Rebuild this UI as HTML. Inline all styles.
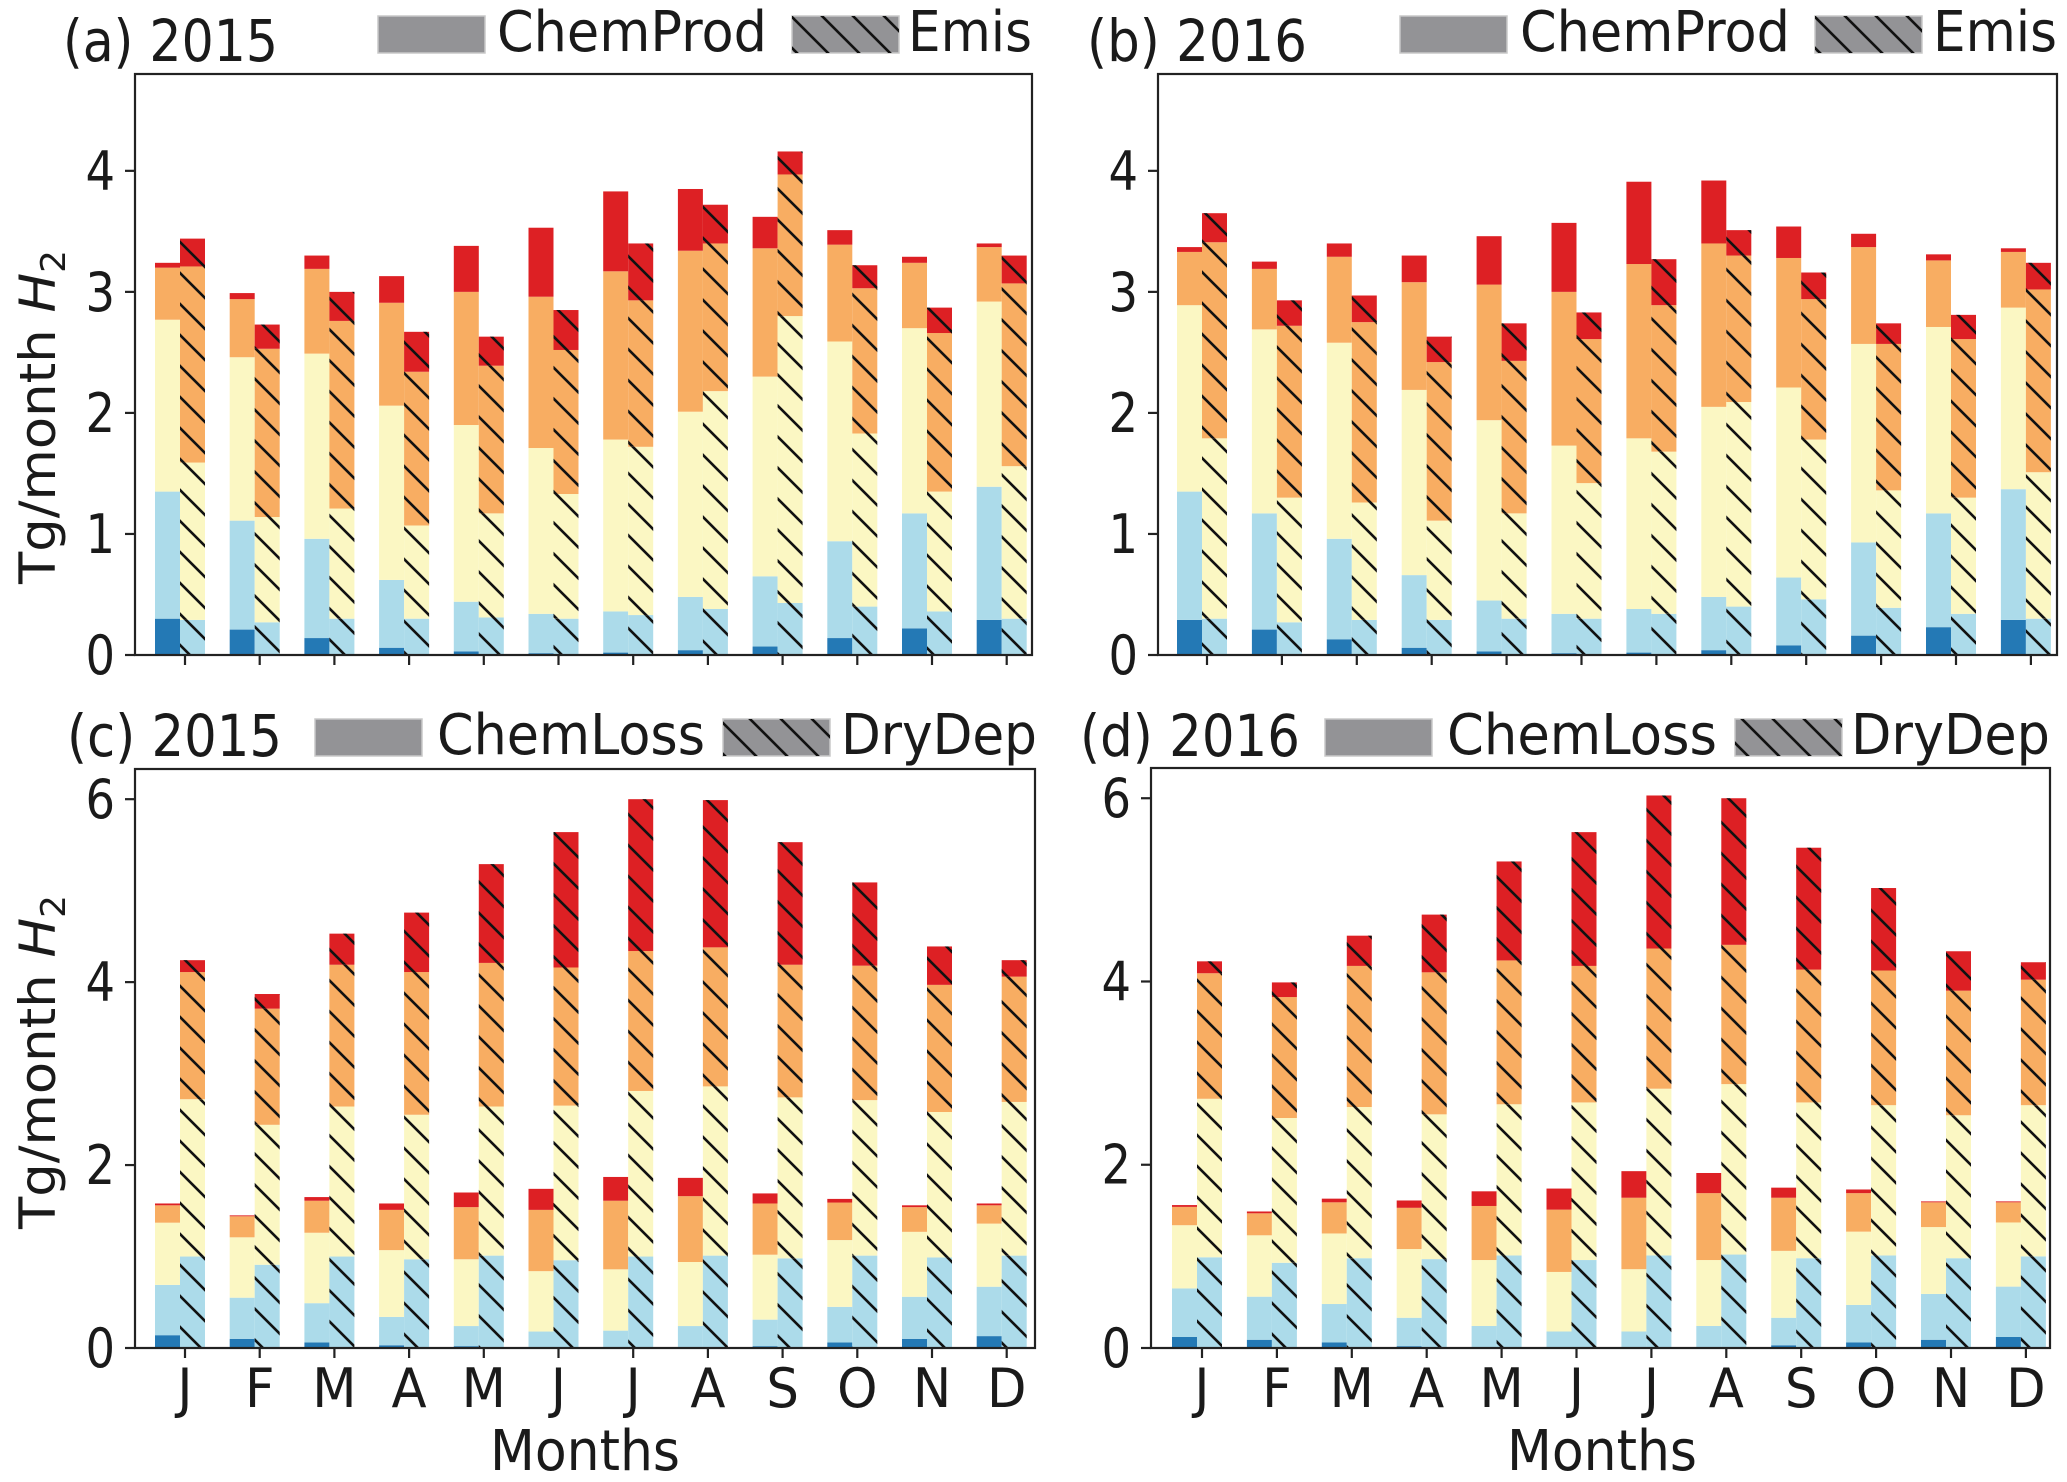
<!DOCTYPE html>
<html><head><meta charset="utf-8"><style>
html,body{margin:0;padding:0;background:#fff;}
svg{display:block;}
text{font-family:"DejaVu Sans","Liberation Sans",sans-serif;fill:#1a1a1a;}
</style></head><body>
<svg id="fig" width="2067" height="1482" viewBox="0 0 2067 1482" xmlns="http://www.w3.org/2000/svg">
<defs>
<pattern id="hatch" patternUnits="userSpaceOnUse" width="31" height="31">
<path d="M-5,-5 L36,36 M-5,26 L5,36 M26,-5 L36,5" stroke="#111" stroke-width="2.6"/>
</pattern>
</defs>
</svg>
<script>
// ---- data: stacked cumulative tops per band (band1 bottom .. band5 top) ----
const months = ["J","F","M","A","M","J","J","A","S","O","N","D"];
const yTicksAB = [0,1,2,3,4];
const yTicksCD = [0,2,4,6];
// (a) 2015 ChemProd
const aProd1 = [0.30,0.21,0.14,0.06,0.03,0.015,0.02,0.04,0.07,0.14,0.22,0.29];
const aProd2 = [1.35,1.11,0.96,0.62,0.44,0.34,0.36,0.48,0.65,0.94,1.17,1.39];
const aProd3 = [2.77,2.46,2.49,2.06,1.90,1.71,1.78,2.01,2.30,2.59,2.70,2.92];
const aProd4 = [3.20,2.94,3.19,2.91,3.00,2.96,3.17,3.34,3.36,3.39,3.24,3.37];
const aProd5 = [3.24,2.99,3.30,3.13,3.38,3.53,3.83,3.85,3.62,3.51,3.29,3.40];
// (a) 2015 Emis
const aEmis1 = [0,0,0,0,0,0,0,0,0,0,0,0];
const aEmis2 = [0.29,0.27,0.30,0.30,0.31,0.30,0.33,0.38,0.43,0.40,0.36,0.30];
const aEmis3 = [1.59,1.14,1.21,1.07,1.17,1.33,1.72,2.18,2.80,1.83,1.35,1.56];
const aEmis4 = [3.21,2.53,2.76,2.34,2.39,2.52,2.93,3.40,3.97,3.03,2.66,3.07];
const aEmis5 = [3.44,2.73,3.00,2.67,2.63,2.85,3.40,3.72,4.16,3.22,2.87,3.30];
// (b) 2016 ChemProd
const bProd1 = [0.29,0.21,0.13,0.06,0.03,0.015,0.02,0.04,0.08,0.16,0.23,0.29];
const bProd2 = [1.35,1.17,0.96,0.66,0.45,0.34,0.38,0.48,0.64,0.93,1.17,1.37];
const bProd3 = [2.89,2.69,2.58,2.19,1.94,1.73,1.79,2.05,2.21,2.57,2.71,2.87];
const bProd4 = [3.33,3.19,3.29,3.08,3.06,3.00,3.23,3.40,3.28,3.37,3.26,3.33];
const bProd5 = [3.37,3.25,3.40,3.30,3.46,3.57,3.91,3.92,3.54,3.48,3.31,3.36];
// (b) 2016 Emis
const bEmis1 = [0,0,0,0,0,0,0,0,0,0,0,0];
const bEmis2 = [0.30,0.27,0.29,0.29,0.30,0.30,0.34,0.40,0.46,0.39,0.34,0.30];
const bEmis3 = [1.79,1.30,1.26,1.11,1.17,1.42,1.68,2.09,1.78,1.36,1.30,1.51];
const bEmis4 = [3.41,2.72,2.75,2.42,2.43,2.61,2.89,3.30,2.94,2.57,2.61,3.02];
const bEmis5 = [3.65,2.93,2.97,2.63,2.74,2.83,3.27,3.51,3.16,2.74,2.81,3.24];
// (c) 2015 ChemLoss
const cLoss1 = [0.14,0.10,0.06,0.03,0.02,0.01,0.01,0.01,0.02,0.06,0.10,0.13];
const cLoss2 = [0.69,0.55,0.49,0.34,0.24,0.18,0.19,0.24,0.31,0.45,0.56,0.67];
const cLoss3 = [1.37,1.21,1.26,1.07,0.97,0.84,0.86,0.94,1.02,1.18,1.27,1.36];
const cLoss4 = [1.56,1.44,1.61,1.51,1.54,1.51,1.61,1.66,1.58,1.59,1.54,1.56];
const cLoss5 = [1.58,1.45,1.65,1.58,1.70,1.74,1.87,1.86,1.69,1.63,1.56,1.58];
// (c) 2015 DryDep
const cDep1 = [0.01,0.01,0.01,0.01,0.01,0.01,0.01,0.01,0.01,0.01,0.01,0.01];
const cDep2 = [1.00,0.91,1.00,0.97,1.01,0.96,1.00,1.01,0.98,1.01,0.99,1.01];
const cDep3 = [2.72,2.44,2.64,2.55,2.64,2.65,2.81,2.86,2.74,2.71,2.58,2.69];
const cDep4 = [4.11,3.71,4.19,4.11,4.21,4.16,4.34,4.38,4.19,4.18,3.97,4.06];
const cDep5 = [4.24,3.87,4.53,4.76,5.29,5.64,6.00,5.99,5.53,5.09,4.39,4.24];
// (d) 2016 ChemLoss
const dLoss1 = [0.12,0.09,0.06,0.02,0.01,0.01,0.01,0.01,0.03,0.06,0.09,0.12];
const dLoss2 = [0.65,0.56,0.48,0.33,0.24,0.18,0.18,0.24,0.33,0.47,0.59,0.67];
const dLoss3 = [1.34,1.23,1.25,1.08,0.96,0.83,0.86,0.96,1.06,1.27,1.32,1.37];
const dLoss4 = [1.54,1.47,1.59,1.53,1.55,1.51,1.64,1.69,1.64,1.69,1.59,1.59];
const dLoss5 = [1.56,1.49,1.63,1.61,1.71,1.74,1.93,1.91,1.75,1.73,1.60,1.60];
// (d) 2016 DryDep
const dDep1 = [0.01,0.01,0.01,0.01,0.01,0.01,0.01,0.01,0.01,0.01,0.01,0.01];
const dDep2 = [0.99,0.93,0.98,0.97,1.01,0.96,1.01,1.02,0.98,1.01,0.98,1.00];
const dDep3 = [2.72,2.51,2.63,2.55,2.66,2.68,2.83,2.88,2.68,2.65,2.54,2.65];
const dDep4 = [4.09,3.83,4.17,4.10,4.23,4.17,4.36,4.40,4.13,4.12,3.90,4.02];
const dDep5 = [4.22,3.99,4.50,4.73,5.31,5.63,6.03,6.00,5.46,5.02,4.33,4.21];

const bandColors = ["#2479b5","#acdbea","#fbf7c3","#f8ad62","#dd2024"];
const NS = "http://www.w3.org/2000/svg";
const svg = document.getElementById("fig");

function el(tag, attrs, parent){
  const e = document.createElementNS(NS, tag);
  for (const k in attrs) e.setAttribute(k, attrs[k]);
  (parent||svg).appendChild(e);
  return e;
}
function txt(x, y, s, size, anchor, parent, sx){
  const t = el("text", {transform:`translate(${x},${y}) scale(${sx||0.86},1)`, "font-size":size, "text-anchor":anchor||"start"}, parent);
  t.textContent = s;
  return t;
}

const panels = [
  {id:"a", title:"(a) 2015", left:135, right:1032, top:74, y0:655, ymax:4.8, tick0:185, dx:74.7, ticks:yTicksAB,
   solid:[aProd1,aProd2,aProd3,aProd4,aProd5], hatch:[aEmis1,aEmis2,aEmis3,aEmis4,aEmis5],
   l1:"ChemProd", l2:"Emis", titleX:63, titleY:61, leg:[378,497,792,908], legEnd:[767,1032], legY:16, legH:37, xlabel:false, ylab:417},
  {id:"b", title:"(b) 2016", left:1158, right:2057, top:74, y0:655, ymax:4.8, tick0:1207, dx:74.9, ticks:yTicksAB,
   solid:[bProd1,bProd2,bProd3,bProd4,bProd5], hatch:[bEmis1,bEmis2,bEmis3,bEmis4,bEmis5],
   l1:"ChemProd", l2:"Emis", titleX:1087, titleY:61, leg:[1400,1520,1815,1933], legEnd:[1790,2057], legY:16, legH:37, xlabel:false, ylab:null},
  {id:"c", title:"(c) 2015", left:135, right:1035, top:769, y0:1348, ymax:6.33, tick0:185, dx:74.7, ticks:yTicksCD,
   solid:[cLoss1,cLoss2,cLoss3,cLoss4,cLoss5], hatch:[cDep1,cDep2,cDep3,cDep4,cDep5],
   l1:"ChemLoss", l2:"DryDep", titleX:67, titleY:756, leg:[315,437,723,841], legEnd:[705,1037], legY:719, legH:37, xlabel:true, xlabX:585, ylab:1062},
  {id:"d", title:"(d) 2016", left:1151, right:2050, top:768, y0:1348, ymax:6.33, tick0:1202, dx:74.9, ticks:yTicksCD,
   solid:[dLoss1,dLoss2,dLoss3,dLoss4,dLoss5], hatch:[dDep1,dDep2,dDep3,dDep4,dDep5],
   l1:"ChemLoss", l2:"DryDep", titleX:1080, titleY:756, leg:[1325,1447,1735,1851], legEnd:[1717,2050], legY:719, legH:37, xlabel:true, xlabX:1602, ylab:null}
];

panels.forEach(p => {
  const g = el("g", {});
  
  
  const yScale = v => p.y0 - v * (p.y0 - p.top) / p.ymax;
  const xTick = i => p.tick0 + p.dx * i;

  function drawStack(series, offset, hatched, kind){
    months.forEach((m, i) => {
      let prev = 0;
      series.forEach((arr, k) => {
        const v = arr[i];
        const y1 = yScale(Math.max(v, prev)), y2 = yScale(Math.min(v, prev));
        const h = y2 - y1;
        if (h > 0.05) {
          const r = el("rect", {x:xTick(i)+offset, y:y1, width:25, height:h, fill:bandColors[k]}, g);
          
          
          if (hatched) {
            const hr = el("rect", {x:xTick(i)+offset, y:y1, width:25, height:h, fill:"url(#hatch)"}, g);
            
            
          }
        }
        prev = v;
      });
    });
  }
  drawStack(p.solid, -30, false, p.l1.toLowerCase());
  drawStack(p.hatch, -5, true, p.l2.toLowerCase());

  const frame = el("rect", {x:p.left, y:p.top, width:p.right-p.left, height:p.y0-p.top, fill:"none", stroke:"#222", "stroke-width":2.2}, g);
  
  

  p.ticks.forEach(t => {
    const y = yScale(t);
    const tk = el("line", {x1:p.left-10, x2:p.left, y1:y, y2:y, stroke:"#222", "stroke-width":2.2}, g);
    
    
    const lb = txt(p.left-20, y+19, String(t), 54, "end", g);
    
    
  });
  months.forEach((m, i) => {
    const x = xTick(i);
    const tk = el("line", {x1:x, x2:x, y1:p.y0, y2:p.y0+10, stroke:"#222", "stroke-width":2.2}, g);
    
    
    if (p.xlabel) {
      const lb = txt(x, 1407, m, 54, "middle", g, 0.95);
      
      
    }
  });

  const ti = txt(p.titleX, p.titleY, p.title, 58, "start", g);
  
  
  ti.setAttribute('textLength', String(((p.id==="a"||p.id==="c") ? 215 : 220)/0.86));
  ti.setAttribute('lengthAdjust', 'spacingAndGlyphs');

  const lg = el("g", {}, g);
  
  
  const r1 = el("rect", {x:p.leg[0], y:p.legY, width:107, height:p.legH, fill:"#939396", stroke:"#c8c8c8", "stroke-width":1.5}, lg);
  
  
  const t1 = txt(p.leg[1], p.legY+p.legH-2, p.l1, 56, "start", lg);
  t1.setAttribute('textLength', String((p.legEnd[0]-p.leg[1])/0.86));
  t1.setAttribute('lengthAdjust', 'spacingAndGlyphs');
  
  
  const r2 = el("rect", {x:p.leg[2], y:p.legY, width:107, height:p.legH, fill:"#939396", stroke:"#c8c8c8", "stroke-width":1.5}, lg);
  
  
  const r2h = el("rect", {x:p.leg[2], y:p.legY, width:107, height:p.legH, fill:"url(#hatch)"}, lg);
  
  
  const t2 = txt(p.leg[3], p.legY+p.legH-2, p.l2, 56, "start", lg);
  t2.setAttribute('textLength', String((p.legEnd[1]-p.leg[3])/0.86));
  t2.setAttribute('lengthAdjust', 'spacingAndGlyphs');
  
  

  if (p.xlabel) {
    const xl = txt(p.xlabX, 1470, "Months", 56, "middle", g);
    xl.setAttribute('textLength', String(190/0.86));
    xl.setAttribute('lengthAdjust', 'spacingAndGlyphs');
    
    
  }
  if (p.ylab !== null) {
    const yl = el("text", {transform:`translate(55,${p.ylab}) rotate(-90)`, "font-size":50, "text-anchor":"middle", textLength:334, lengthAdjust:"spacingAndGlyphs"}, g);
    
    
    yl.innerHTML = 'Tg/month <tspan font-style="italic">H</tspan><tspan font-size="34" dy="10">2</tspan>';
  }
});
</script>
</body></html>
